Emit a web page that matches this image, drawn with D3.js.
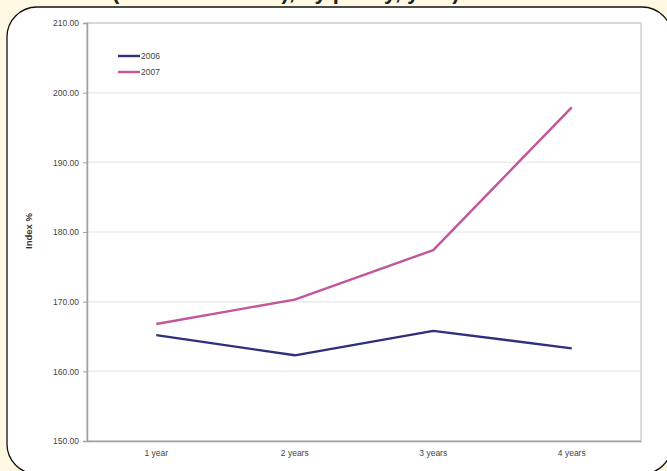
<!DOCTYPE html>
<html>
<head>
<meta charset="utf-8">
<script src="https://cdn.jsdelivr.net/npm/d3@7"></script>
<style>
  body { margin: 0; background: #fff9e4; }
  svg { display: block; font-family: "Liberation Sans", Arial, sans-serif; }
</style>
</head>
<body>
<div id="chart"></div>
<script>
// data
var categories = ["1 year", "2 years", "3 years", "4 years"];
var seriesNames = ["2006", "2007"];
var values2006 = [165.2, 162.3, 165.8, 163.3];
var values2007 = [166.8, 170.3, 177.4, 197.9];
var yTicks = [150, 160, 170, 180, 190, 200, 210];

var colors = {"2006": "#2f2f7c", "2007": "#c4559a"};

var W = 667, H = 471;
var margin = {top: 23, right: 26, bottom: 30, left: 87};
var width = W - margin.left - margin.right,
    height = H - margin.top - margin.bottom;

var svg = d3.select("#chart").append("svg")
    .attr("width", W)
    .attr("height", H);

// title of the page, mostly above the crop
svg.append("text")
    .attr("x", 112).attr("y", -1)
    .attr("font-size", 22)
    .attr("font-weight", "bold")
    .attr("fill", "#222")
    .text("(Index 2000=100), by policy, year)");

// rounded white panel
svg.append("rect")
    .attr("x", 7).attr("y", 7)
    .attr("width", 665).attr("height", 467)
    .attr("rx", 30).attr("ry", 30)
    .attr("fill", "#fff")
    .attr("stroke", "#111")
    .attr("stroke-width", 1.3);

var g = svg.append("g")
    .attr("transform", "translate(" + margin.left + "," + margin.top + ")");

var y = d3.scaleLinear()
    .domain([150, 210])
    .range([height, 0]);

var x = d3.scaleBand()
    .domain(categories)
    .range([0, width]);

// gridlines
g.selectAll(".grid")
    .data(yTicks)
    .enter()
    .append("line")
    .attr("x1", 0)
    .attr("x2", width)
    .attr("y1", function (d) { return y(d); })
    .attr("y2", function (d) { return y(d); })
    .attr("stroke", "#ececec")
    .attr("stroke-width", 1.5);

// plot frame
g.append("rect")
    .attr("width", width)
    .attr("height", height)
    .attr("fill", "none")
    .attr("stroke", "#d6d0d0")
    .attr("stroke-width", 1.5);

var yAxis = g.append("g")
    .call(d3.axisLeft(y).tickValues(yTicks).tickSize(4).tickPadding(4)
        .tickFormat(d3.format(".2f")));
yAxis.select(".domain").attr("stroke", "#a89c9c").attr("stroke-width", 1.5);
yAxis.selectAll(".tick line").attr("stroke", "#a89c9c");
yAxis.selectAll("text").attr("font-size", 8.5).attr("fill", "#444");

var xAxis = g.append("g")
    .attr("transform", "translate(0," + height + ")")
    .call(d3.axisBottom(x).tickSize(0).tickPadding(9));
xAxis.select(".domain").attr("stroke", "#a89c9c").attr("stroke-width", 1.5);
xAxis.selectAll("text").attr("font-size", 8.5).attr("fill", "#444");

// y axis title
g.append("text")
    .attr("transform", "translate(-55,208) rotate(-90)")
    .attr("text-anchor", "middle")
    .attr("font-size", 9.5)
    .attr("font-weight", "bold")
    .attr("fill", "#333")
    .text("Index %");

var line = d3.line()
    .x(function (d, i) { return x(categories[i]) + x.bandwidth() / 2; })
    .y(function (d) { return y(d); });

var series = [
    {name: "2006", values: values2006},
    {name: "2007", values: values2007}
];

g.selectAll(".series")
    .data(series)
    .enter()
    .append("path")
    .attr("d", function (d) { return line(d.values); })
    .attr("fill", "none")
    .attr("stroke", function (d) { return colors[d.name]; })
    .attr("stroke-width", 2.4)
    .attr("stroke-linejoin", "round");

// legend
var legend = g.selectAll(".legend")
    .data(seriesNames)
    .enter()
    .append("g")
    .attr("transform", function (d, i) { return "translate(31," + (33 + i * 16) + ")"; });

legend.append("line")
    .attr("x1", 0).attr("x2", 22)
    .attr("stroke", function (d) { return colors[d]; })
    .attr("stroke-width", 2.4);

legend.append("text")
    .attr("x", 23)
    .attr("dy", "0.35em")
    .attr("font-size", 8.5)
    .attr("fill", "#444")
    .text(function (d) { return d; });
</script>
</body>
</html>
